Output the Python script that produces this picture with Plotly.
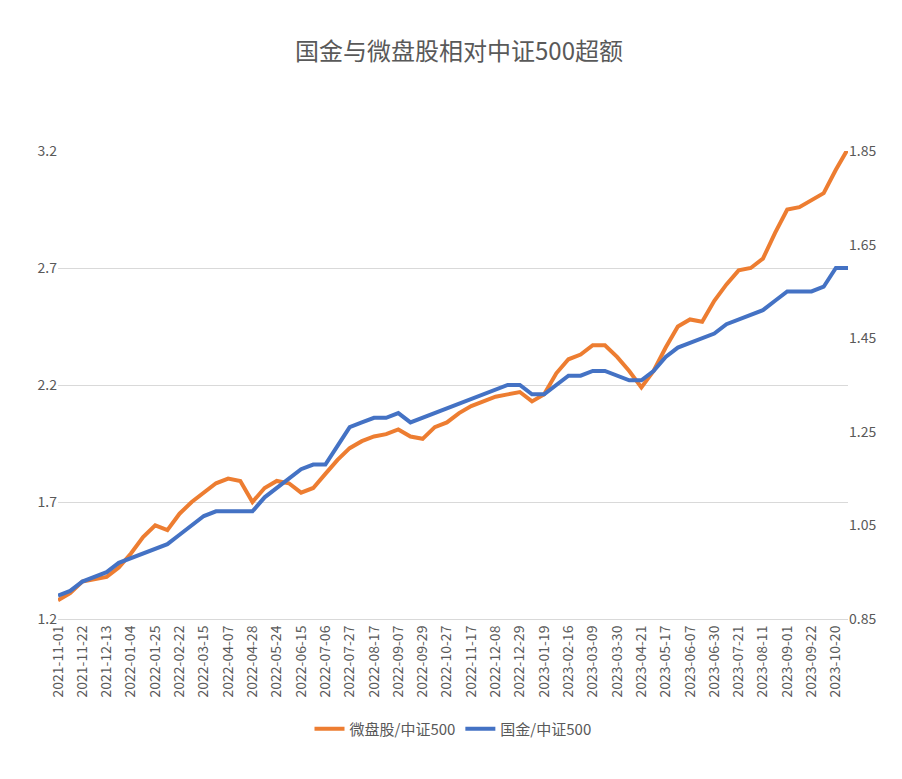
import plotly.graph_objects as go

# 交易日（类别轴），每个刻度之间补一个中点
dates = [
    "2021-11-01", "2021-11-11", "2021-11-22", "2021-12-02", "2021-12-13", "2021-12-23",
    "2022-01-04", "2022-01-14", "2022-01-25", "2022-02-11", "2022-02-22", "2022-03-04",
    "2022-03-15", "2022-03-25", "2022-04-07", "2022-04-18", "2022-04-28", "2022-05-12",
    "2022-05-24", "2022-06-02", "2022-06-15", "2022-06-24", "2022-07-06", "2022-07-15",
    "2022-07-27", "2022-08-05", "2022-08-17", "2022-08-26", "2022-09-07", "2022-09-19",
    "2022-09-29", "2022-10-17", "2022-10-27", "2022-11-07", "2022-11-17", "2022-11-28",
    "2022-12-08", "2022-12-19", "2022-12-29", "2023-01-09", "2023-01-19", "2023-02-06",
    "2023-02-16", "2023-02-27", "2023-03-09", "2023-03-20", "2023-03-30", "2023-04-11",
    "2023-04-21", "2023-05-05", "2023-05-17", "2023-05-26", "2023-06-07", "2023-06-16",
    "2023-06-30", "2023-07-11", "2023-07-21", "2023-08-01", "2023-08-11", "2023-08-22",
    "2023-09-01", "2023-09-12", "2023-09-22", "2023-10-11", "2023-10-20", "2023-10-31",
]

weipan = [
    1.28, 1.31, 1.36, 1.37, 1.38, 1.42,
    1.48, 1.55, 1.60, 1.58, 1.65, 1.70,
    1.74, 1.78, 1.80, 1.79, 1.70, 1.76,
    1.79, 1.78, 1.74, 1.76, 1.82, 1.88,
    1.93, 1.96, 1.98, 1.99, 2.01, 1.98,
    1.97, 2.02, 2.04, 2.08, 2.11, 2.13,
    2.15, 2.16, 2.17, 2.13, 2.16, 2.25,
    2.31, 2.33, 2.37, 2.37, 2.32, 2.26,
    2.19, 2.26, 2.36, 2.45, 2.48, 2.47,
    2.56, 2.63, 2.69, 2.70, 2.74, 2.85,
    2.95, 2.96, 2.99, 3.02, 3.12, 3.21,
]

guojin = [
    0.90, 0.91, 0.93, 0.94, 0.95, 0.97,
    0.98, 0.99, 1.00, 1.01, 1.03, 1.05,
    1.07, 1.08, 1.08, 1.08, 1.08, 1.11,
    1.13, 1.15, 1.17, 1.18, 1.18, 1.22,
    1.26, 1.27, 1.28, 1.28, 1.29, 1.27,
    1.28, 1.29, 1.30, 1.31, 1.32, 1.33,
    1.34, 1.35, 1.35, 1.33, 1.33, 1.35,
    1.37, 1.37, 1.38, 1.38, 1.37, 1.36,
    1.36, 1.38, 1.41, 1.43, 1.44, 1.45,
    1.46, 1.48, 1.49, 1.50, 1.51, 1.53,
    1.55, 1.55, 1.55, 1.56, 1.60, 1.60,
]

tick_dates = dates[0:65:2]

font = "Noto Sans CJK SC"
fig = go.Figure()
fig.add_trace(go.Scatter(x=dates, y=weipan, name="微盘股/中证500",
                         line=dict(color="#ED7D31", width=4)))
fig.add_trace(go.Scatter(x=dates, y=guojin, name="国金/中证500", yaxis="y2",
                         line=dict(color="#4472C4", width=4)))

fig.update_layout(
    width=902, height=779,
    paper_bgcolor="white", plot_bgcolor="white",
    font=dict(family=font, color="#595959", size=14),
    title=dict(text="国金与微盘股相对中证500超额", x=0.5, y=0.955,
               font=dict(size=24, color="#595959")),
    xaxis=dict(type="category", tickvals=tick_dates, tickangle=-90,
               showgrid=False, showline=True, linecolor="#D9D9D9",
               tickfont=dict(size=14)),
    yaxis=dict(range=[1.2, 3.2], tickvals=[1.2, 1.7, 2.2, 2.7, 3.2],
               tickformat=".1f", gridcolor="#D9D9D9", zeroline=False),
    yaxis2=dict(range=[0.85, 1.85], tickvals=[0.85, 1.05, 1.25, 1.45, 1.65, 1.85],
                tickformat=".2f", overlaying="y", side="right", showgrid=False,
                zeroline=False),
    legend=dict(orientation="h", x=0.5, xanchor="center", y=-0.2, yanchor="top",
                font=dict(size=15)),
    margin=dict(l=50, r=62, t=143, b=168),
)

fig.write_html("out.html")
